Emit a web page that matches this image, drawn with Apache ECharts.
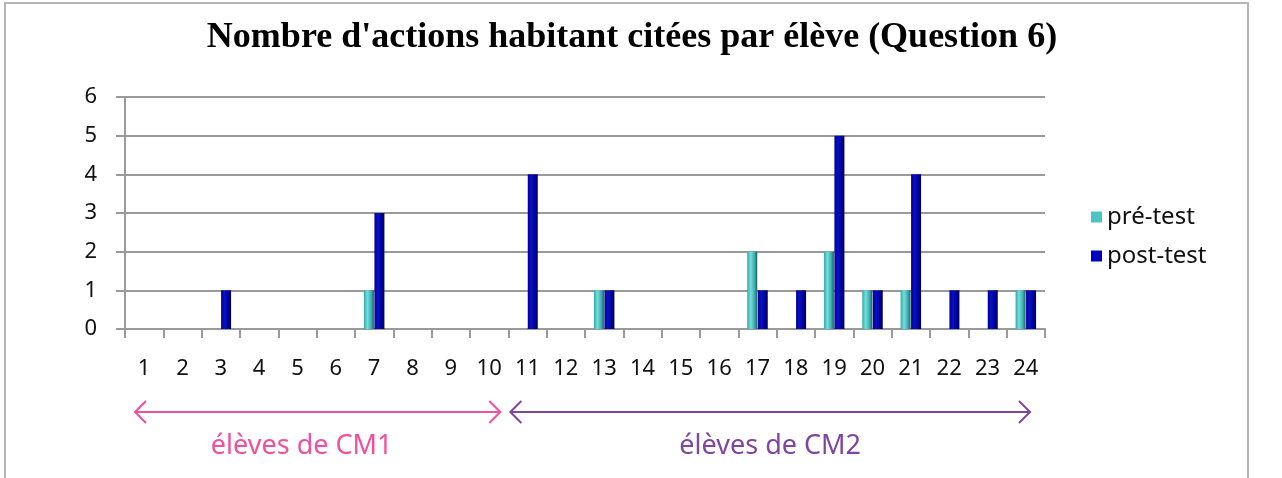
<!DOCTYPE html>
<html><head><meta charset="utf-8">
<script src="https://cdn.jsdelivr.net/npm/echarts@6/dist/echarts.min.js"></script>
<style>html,body{margin:0;padding:0;background:#fff;}#c{width:1282px;height:478px;}</style>
</head><body><div id="c"></div>
<script>
const categories = ['1','2','3','4','5','6','7','8','9','10','11','12','13','14','15','16','17','18','19','20','21','22','23','24'];
const preTest  = [0,0,0,0,0,0,1,0,0,0,0,0,1,0,0,0,2,0,2,1,1,0,0,1];
const postTest = [0,0,1,0,0,0,3,0,0,0,4,0,1,0,0,0,1,1,5,1,4,1,1,1];
const yTicks = [0,1,2,3,4,5,6];
const groups = [
  {label:'élèves de CM1', from:0, to:9, color:'#f2509c'},
  {label:'élèves de CM2', from:10, to:23, color:'#7f45a3'}
];

const chart = echarts.init(document.getElementById('c'));
const font = '"Noto Sans", "Open Sans", sans-serif';
const preGrad = new echarts.graphic.LinearGradient(0,0,1,0,[
  {offset:0,color:'#3aa6a6'},{offset:0.35,color:'#6ee0e0'},{offset:0.75,color:'#3fa7a7'},{offset:1,color:'#1e5e5e'}]);
const postGrad = new echarts.graphic.LinearGradient(0,0,1,0,[
  {offset:0,color:'#00008e'},{offset:0.35,color:'#0810c8'},{offset:0.75,color:'#000094'},{offset:1,color:'#00004a'}]);

const option = {
  animation:false,
  backgroundColor:'#fff',
  title:{text:"Nombre d'actions habitant citées par élève (Question 6)", left:627, top:15, textAlign:'center',
    textStyle:{fontFamily:'"Liberation Serif", "Times New Roman", serif', fontWeight:'bold', fontSize:36, color:'#000'}},
  legend:{orient:'vertical', left:1086, top:200, itemWidth:11, itemHeight:11, itemGap:15,
    textStyle:{fontFamily:font, fontSize:24, color:'#111'},
    data:[{name:'pré-test', icon:'rect', itemStyle:{color:'#4cc4c4'}},{name:'post-test', icon:'rect', itemStyle:{color:'#0000c0'}}]},
  grid:{left:125, right:237, top:97, bottom:149, containLabel:false},
  xAxis:{type:'category', data:categories, boundaryGap:true,
    axisLine:{lineStyle:{color:'#9a9a9a', width:2}},
    axisTick:{show:true, length:9, lineStyle:{color:'#9a9a9a', width:2}},
    axisLabel:{margin:29, fontFamily:font, fontSize:22, color:'#111', interval:0}},
  yAxis:{type:'value', min:0, max:6, interval:1,
    axisLine:{show:true, lineStyle:{color:'#9a9a9a', width:2}},
    axisTick:{show:true, length:9, lineStyle:{color:'#9a9a9a', width:2}},
    splitLine:{lineStyle:{color:'#9a9a9a', width:2}},
    axisLabel:{margin:28, fontFamily:font, fontSize:22, color:'#111',
      formatter:v=> yTicks.includes(v) ? String(v) : ''}},
  series:[
    {name:'pré-test', type:'bar', data:preTest, barWidth:10, barGap:'5%', itemStyle:{color:preGrad}},
    {name:'post-test', type:'bar', data:postTest, barWidth:10, itemStyle:{color:postGrad}}
  ],
  graphic:[{type:'rect', shape:{x:5,y:3,width:1243,height:480}, style:{fill:'none', stroke:'#b5b5b5', lineWidth:2}, silent:true}]
};
chart.setOption(option);

// group annotations (arrows) positioned via axis scale
const half = (chart.convertToPixel({xAxisIndex:0},1) - chart.convertToPixel({xAxisIndex:0},0))/2;
const arrowY = 412, textY = 446, head = 11;
const g = [];
groups.forEach((gr,i)=>{
  let x1 = chart.convertToPixel({xAxisIndex:0}, gr.from) - half + (i===0?10:2);
  let x2 = chart.convertToPixel({xAxisIndex:0}, gr.to) + half - (i===0?8:15);
  const st = {stroke:gr.color, lineWidth:2, fill:'none'};
  g.push({type:'line', shape:{x1:x1,y1:arrowY,x2:x2,y2:arrowY}, style:st, silent:true});
  g.push({type:'polyline', shape:{points:[[x1+head,arrowY-head],[x1,arrowY],[x1+head,arrowY+head]]}, style:st, silent:true});
  g.push({type:'polyline', shape:{points:[[x2-head,arrowY-head],[x2,arrowY],[x2-head,arrowY+head]]}, style:st, silent:true});
  g.push({type:'text', x:(x1+x2)/2 + (i===0?-16:0), y:textY, style:{text:gr.label, fill:gr.color, font:'27px '+font, align:'center', verticalAlign:'middle'}, silent:true});
});
chart.setOption({graphic: option.graphic.concat(g)});
</script></body></html>
